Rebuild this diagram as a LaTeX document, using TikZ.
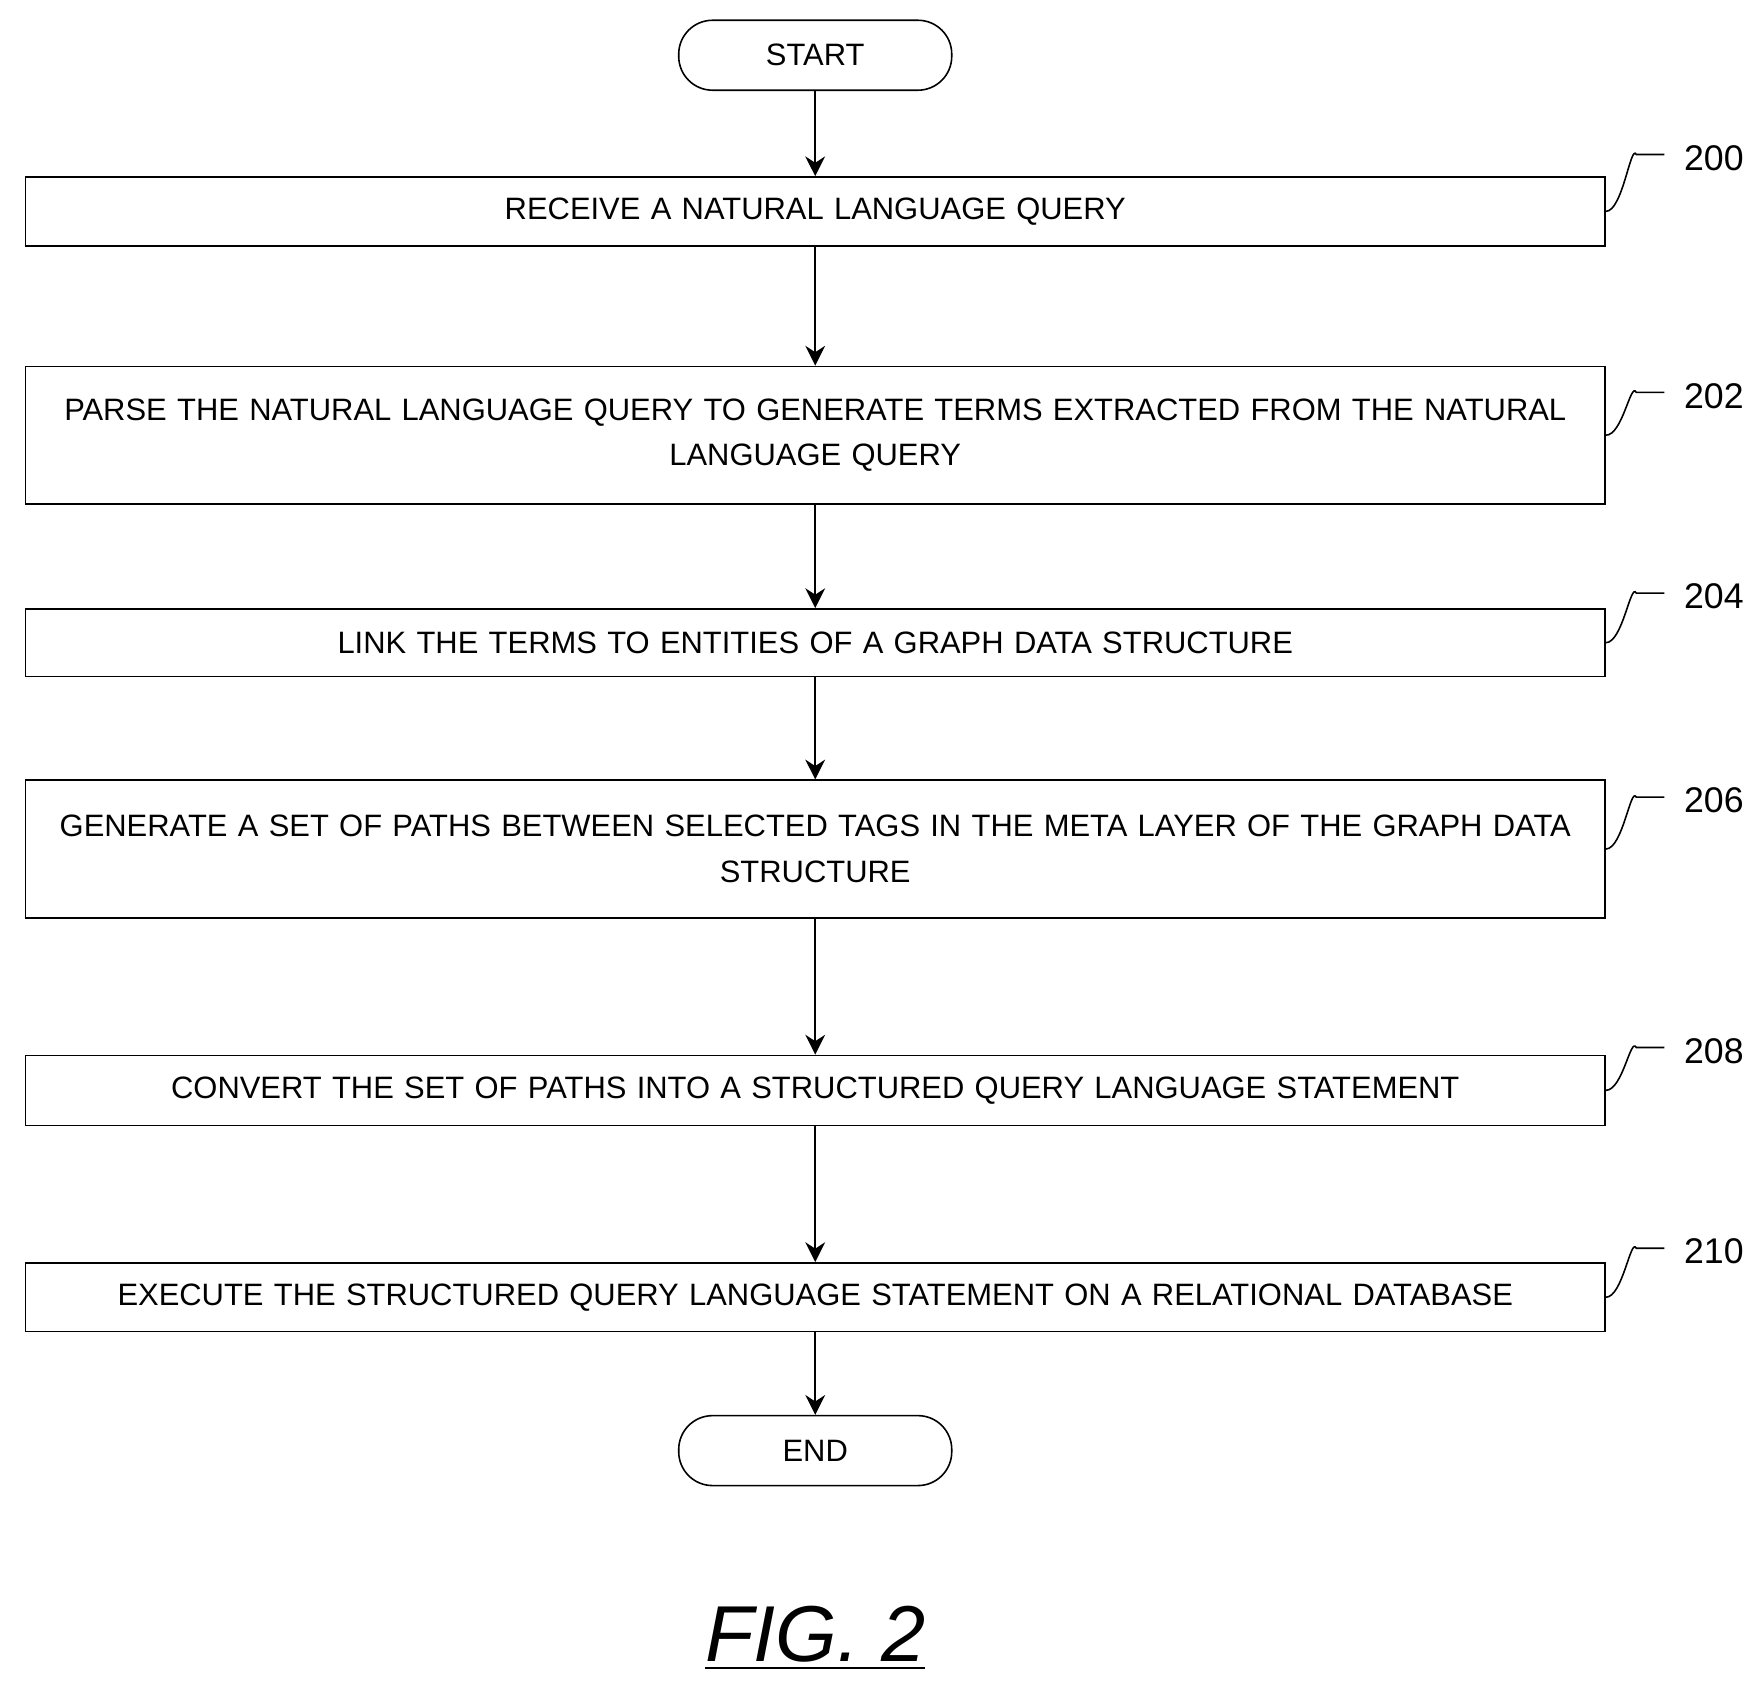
\documentclass[tikz,border=0pt]{standalone}
\usepackage{fontspec}
\setmainfont{Liberation Sans}
\usetikzlibrary{positioning,arrows.meta}

\begin{document}
\begin{tikzpicture}[x=0.01cm, y=-0.01cm,
  every node/.style={font=\fontsize{7.8}{11.5}\selectfont, align=center},
  box/.style={draw, minimum width=14.0cm, text width=13.8cm, inner sep=0pt},
  term/.style={draw, rounded corners=0.3cm, minimum width=2.42cm, minimum height=0.62cm}]
\useasboundingbox (0,0) rectangle (1560,1492);
\tikzstyle{flow}=[-{Stealth[length=5pt,width=5pt]}, thin]
\tikzstyle{lead}=[thin]

\node [term] (start) at (723,49) {START};
\node [box, minimum height=0.61cm] (s200) at (723,187.5) {RECEIVE A NATURAL LANGUAGE QUERY};
\node [box, minimum height=1.22cm] (s202) at (723,386) {PARSE THE NATURAL LANGUAGE QUERY TO GENERATE TERMS EXTRACTED FROM THE NATURAL\\ LANGUAGE QUERY};
\node [box, minimum height=0.60cm] (s204) at (723,570) {LINK THE TERMS TO ENTITIES OF A GRAPH DATA STRUCTURE};
\node [box, minimum height=1.22cm] (s206) at (723,753) {GENERATE A SET OF PATHS BETWEEN SELECTED TAGS IN THE META LAYER OF THE GRAPH DATA\\ STRUCTURE};
\node [box, minimum height=0.62cm] (s208) at (723,967) {CONVERT THE SET OF PATHS INTO A STRUCTURED QUERY LANGUAGE STATEMENT};
\node [box, minimum height=0.61cm] (s210) at (723,1150.5) {EXECUTE THE STRUCTURED QUERY LANGUAGE STATEMENT ON A RELATIONAL DATABASE};
\node [term] (end) at (723,1286.5) {END};

\draw [flow] (start) -- (s200);
\draw [flow] (s200) -- (s202);
\draw [flow] (s202) -- (s204);
\draw [flow] (s204) -- (s206);
\draw [flow] (s206) -- (s208);
\draw [flow] (s208) -- (s210);
\draw [flow] (s210) -- (end);

% reference numerals
\foreach \n/\y in {200/140, 202/351, 204/529, 206/710, 208/932, 210/1110} {
  \node [font=\fontsize{9}{11}\selectfont] (l\n) at (1520,\y) {\n};
}
\foreach \n in {200,202,204,206,208,210} {
  \draw [lead] (s\n.east) .. controls +(0.15cm,0cm) and +(-0.05cm,0.1cm) .. ([xshift=-0.3cm,yshift=0.03cm]l\n.west) -- ([xshift=-0.05cm,yshift=0.03cm]l\n.west);
}

\node [font=\fontsize{20}{24}\selectfont\itshape] (fig) at (723,1453) {\underline{FIG. 2}};
\end{tikzpicture}
\end{document}
